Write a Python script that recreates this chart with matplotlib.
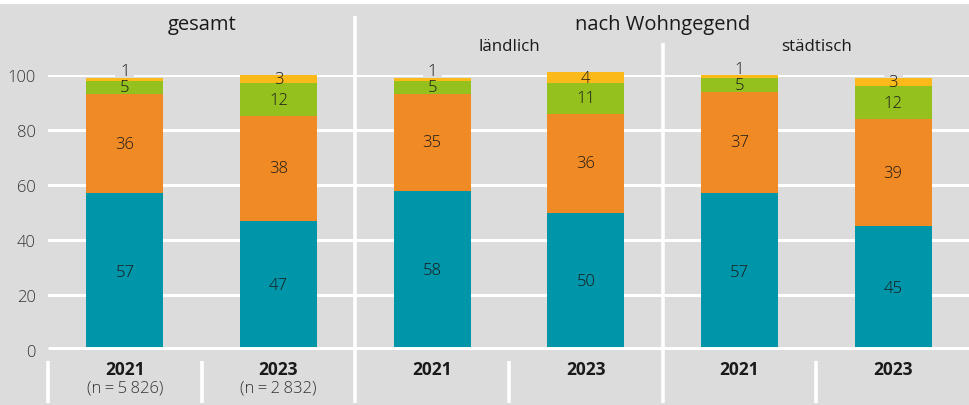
import matplotlib
matplotlib.use('Agg')
import matplotlib.pyplot as plt
from matplotlib.patches import Rectangle
from matplotlib.transforms import blended_transform_factory

plt.rcParams['font.family'] = ['Open Sans', 'DejaVu Sans']

years = ['2021', '2023', '2021', '2023', '2021', '2023']
sample_sizes = ['(n\u2009=\u20095\u2009826)', '(n\u2009=\u20092\u2009832)', '', '', '', '']
s1 = [57, 47, 58, 50, 57, 45]
s2 = [36, 38, 35, 36, 37, 39]
s3 = [5, 12, 5, 11, 5, 12]
s4 = [1, 3, 1, 4, 1, 3]
yticks = [0, 20, 40, 60, 80, 100]
group_titles = ['gesamt', 'nach Wohngegend']
sub_titles = ['ländlich', 'städtisch']

colors = ['#0095a8', '#f08a24', '#95c11f', '#fbba19']
bg = '#dcdcdc'
txt = '#1a1a1a'

W, H = 970, 406
fig = plt.figure(figsize=(W / 100, H / 100), dpi=100)
fig.patch.set_facecolor('white')
fig.patches.append(Rectangle((0, 0), 1, 401 / H, transform=fig.transFigure,
                             facecolor=bg, edgecolor='none', zorder=-10))

ax = fig.add_axes([48 / W, 1 - 351 / H, 1 - 48 / W, 275 / H])
ax.set_facecolor('none')
ax.set_xlim(-0.5, 5.5)
ax.set_ylim(0, 100)
for s in ax.spines.values():
    s.set_visible(False)
ax.set_yticks(yticks)
ax.tick_params(axis='y', length=0, pad=9, labelsize=12, labelcolor='#333333')
for lab in ax.get_yticklabels():
    lab.set_fontweight('light')
ax.set_xticks([])
for t in yticks[1:]:
    ax.axhline(t, color='white', lw=2.2, zorder=0)
ax.axhline(0, color='white', lw=5, zorder=4, solid_capstyle='butt')

x = list(range(len(years)))
series = [s1, s2, s3, s4]
bottoms = [0] * len(x)
for k, (vals, col) in enumerate(zip(series, colors)):
    ax.bar(x, vals, width=0.5, bottom=bottoms, color=col, zorder=2,
           edgecolor='none', clip_on=False)
    top = (k == len(series) - 1)
    for i, v in enumerate(vals):
        if v <= 1:
            y = bottoms[i] + v + 2.3
        else:
            y = bottoms[i] + v / 2
        if top:
            ax.text(i, y, str(v), ha='center', va='center', fontsize=12, color=bg,
                    zorder=1.5, bbox=dict(facecolor=bg, edgecolor='none', pad=3.5))
        ax.text(i, y, str(v), ha='center', va='center', fontsize=12, color=txt,
                fontweight='light', zorder=5)
    bottoms = [b + v for b, v in zip(bottoms, vals)]

tr = blended_transform_factory(ax.transData, fig.transFigure)

def fy(py):
    return 1 - py / H

# vertical separators
for xs, y0 in [(1.5, 17), (3.5, 44)]:
    ax.plot([xs, xs], [fy(y0), fy(404)], color='white', lw=2.6, transform=tr,
            clip_on=False, zorder=3, solid_capstyle='butt')
for xs in [-0.5, 0.5, 2.5, 4.5]:
    ax.plot([xs, xs], [fy(362), fy(404)], color='white', lw=2.6, transform=tr,
            clip_on=False, zorder=3, solid_capstyle='butt')

# category labels
for i in x:
    ax.text(i, fy(370), years[i], ha='center', va='center', fontsize=12.5,
            fontweight='bold', color=txt, transform=tr)
    if sample_sizes[i]:
        ax.text(i, fy(389), sample_sizes[i], ha='center', va='center', fontsize=12,
                fontweight='light', color='#333333', transform=tr)

# headers
ax.text(0.5, fy(25), group_titles[0], ha='center', va='center', fontsize=14.5,
        color=txt, transform=tr)
ax.text(3.5, fy(25), group_titles[1], ha='center', va='center', fontsize=14.5,
        color=txt, transform=tr)
ax.text(2.5, fy(47), sub_titles[0], ha='center', va='center', fontsize=12.2,
        color=txt, transform=tr)
ax.text(4.5, fy(47), sub_titles[1], ha='center', va='center', fontsize=12.2,
        color=txt, transform=tr)

fig.savefig('out.png', dpi=100, facecolor=fig.get_facecolor())
